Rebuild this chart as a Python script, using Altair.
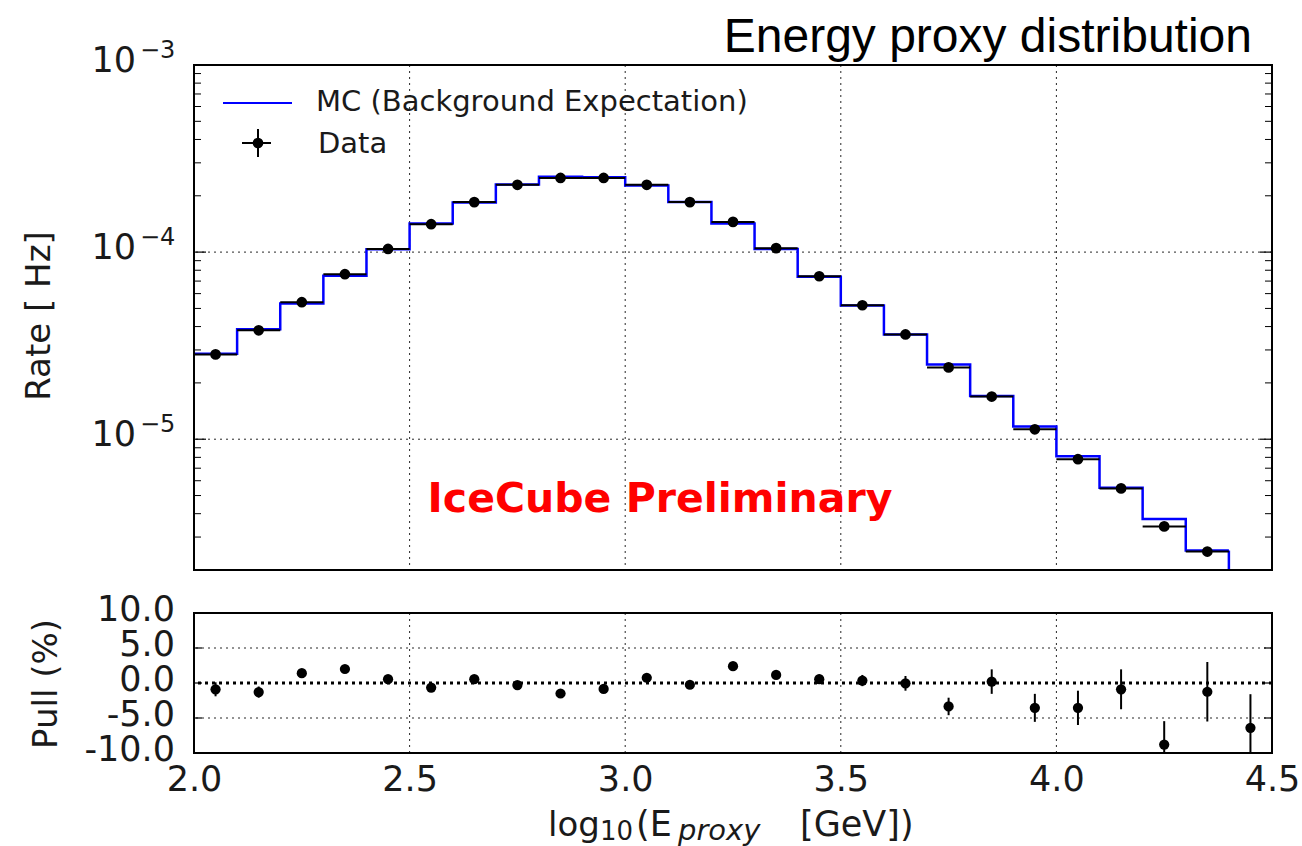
import altair as alt
import pandas as pd

# ---------------- data ----------------
bin_lo = [2.0, 2.1, 2.2, 2.3, 2.4, 2.5, 2.6, 2.7, 2.8, 2.9, 3.0, 3.1,
          3.2, 3.3, 3.4, 3.5, 3.6, 3.7, 3.8, 3.9, 4.0, 4.1, 4.2, 4.3]
bin_hi = [2.1, 2.2, 2.3, 2.4, 2.5, 2.6, 2.7, 2.8, 2.9, 3.0, 3.1, 3.2,
          3.3, 3.4, 3.5, 3.6, 3.7, 3.8, 3.9, 4.0, 4.1, 4.2, 4.3, 4.4]
bin_center = [2.05, 2.15, 2.25, 2.35, 2.45, 2.55, 2.65, 2.75, 2.85, 2.95, 3.05, 3.15,
              3.25, 3.35, 3.45, 3.55, 3.65, 3.75, 3.85, 3.95, 4.05, 4.15, 4.25, 4.35]

data_rate = [2.84e-5, 3.82e-5, 5.40e-5, 7.62e-5, 1.04e-4, 1.41e-4, 1.85e-4, 2.29e-4,
             2.49e-4, 2.49e-4, 2.29e-4, 1.85e-4, 1.45e-4, 1.05e-4, 7.43e-5, 5.20e-5,
             3.63e-5, 2.42e-5, 1.69e-5, 1.13e-5, 7.82e-6, 5.46e-6, 3.42e-6, 2.51e-6]

mc_rate = [2.86e-5, 3.87e-5, 5.32e-5, 7.47e-5, 1.035e-4, 1.42e-4, 1.84e-4, 2.30e-4,
           2.53e-4, 2.51e-4, 2.27e-4, 1.85e-4, 1.42e-4, 1.04e-4, 7.39e-5, 5.18e-5,
           3.63e-5, 2.51e-5, 1.70e-5, 1.17e-5, 8.10e-6, 5.50e-6, 3.75e-6, 2.54e-6]

pull_x = [2.05, 2.15, 2.25, 2.35, 2.45, 2.55, 2.65, 2.75, 2.85, 2.95, 3.05, 3.15, 3.25,
          3.35, 3.45, 3.55, 3.65, 3.75, 3.85, 3.95, 4.05, 4.15, 4.25, 4.35, 4.45]
pull_val = [-0.9, -1.3, 1.4, 2.0, 0.55, -0.65, 0.55, -0.3, -1.5, -0.85, 0.75, -0.25, 2.4,
            1.15, 0.55, 0.35, -0.05, -3.35, 0.2, -3.55, -3.55, -0.9, -8.8, -1.25, -6.4]
pull_err = [1.0, 0.8, 0.6, 0.5, 0.4, 0.35, 0.35, 0.35, 0.35, 0.4, 0.4, 0.45, 0.5,
            0.55, 0.65, 0.8, 1.05, 1.25, 1.75, 2.0, 2.45, 2.85, 3.35, 4.25, 4.8]

x_ticks = [2.0, 2.5, 3.0, 3.5, 4.0, 4.5]
x_grid = [2.5, 3.0, 3.5, 4.0]
y_major = [1e-3, 1e-4, 1e-5]
y_major_exp = ["\u22123", "\u22124", "\u22125"]
y_grid = [1e-4, 1e-5]
y_minor = [m * 10.0 ** e for e in (-6, -5, -4) for m in range(2, 10) if m * 10.0 ** e >= 2e-6]
pull_ticks = [10, 5, 0, -5, -10]
pull_labels = ["10.0", "5.0", "0.0", "-5.0", "-10.0"]
pull_grid = [5, -5]

# ---------------- styling ----------------
W, H = 1078, 505
HB = 140
FONT = "DejaVu Sans"
TXT = "#1a1a1a"

xs = alt.Scale(domain=[2.0, 4.5], nice=False, zero=False)
ys = alt.Scale(type="log", domain=[2e-6, 1e-3], nice=False)
ps = alt.Scale(domain=[-10, 10], nice=False, zero=False)

def X(f):
    return alt.X(f, scale=xs, axis=None)

def Y(f):
    return alt.Y(f, scale=ys, axis=None)

def P(f):
    return alt.Y(f, scale=ps, axis=None)

df_data = pd.DataFrame({"lo": bin_lo, "hi": bin_hi, "c": bin_center, "rate": data_rate})
df_mc = pd.DataFrame({"x": bin_lo + [bin_hi[-1]], "y": mc_rate + [mc_rate[-1]]})
df_end = pd.DataFrame({"x": [bin_hi[-1]], "y": [mc_rate[-1]]})
df_minor = pd.DataFrame({"v": y_minor})
df_major = pd.DataFrame({"v": y_major, "exp": y_major_exp})
df_xgrid = pd.DataFrame({"x": x_grid})
df_ygrid = pd.DataFrame({"v": y_grid})
one = pd.DataFrame({"a": [0]})

def frame_rect(h):
    return alt.Chart(one).mark_rect(fill=None, stroke="black", strokeWidth=2).encode(
        x=alt.value(0), x2=alt.value(W), y=alt.value(0), y2=alt.value(h))

def text(t, x, y, size, align="left", baseline="alphabetic", font=FONT, style="normal",
         weight="normal", color=TXT, angle=0):
    return alt.Chart(one).mark_text(font=font, fontSize=size, fontStyle=style,
                                    fontWeight=weight, color=color, align=align,
                                    baseline=baseline, angle=angle).encode(
        x=alt.value(x), y=alt.value(y), text=alt.value(t))

# ---------------- top panel ----------------
xgrid_t = alt.Chart(df_xgrid).mark_rule(color="black", strokeWidth=1, strokeDash=[2, 4],
                                        opacity=0.85).encode(x=X("x:Q"))
ygrid_t = alt.Chart(df_ygrid).mark_rule(color="black", strokeWidth=1, strokeDash=[2, 4],
                                        opacity=0.85).encode(y=Y("v:Q"))

mc_line = alt.Chart(df_mc).mark_line(interpolate="step-after", color="#0000ff",
                                     strokeWidth=2.5).encode(x=X("x:Q"), y=Y("y:Q"))
mc_drop = alt.Chart(df_end).mark_rule(color="#0000ff", strokeWidth=2.5).encode(
    x=X("x:Q"), y=Y("y:Q"), y2=alt.value(H))

xerr = alt.Chart(df_data).mark_rule(color="black", strokeWidth=2).encode(
    x=X("lo:Q"), x2="hi:Q", y=Y("rate:Q"))
pts = alt.Chart(df_data).mark_circle(color="black", size=115, opacity=1).encode(
    x=X("c:Q"), y=Y("rate:Q"))

minor_l = alt.Chart(df_minor).mark_rule(color="black", strokeWidth=1).encode(
    y=Y("v:Q"), x=alt.value(0), x2=alt.value(7))
minor_r = alt.Chart(df_minor).mark_rule(color="black", strokeWidth=1).encode(
    y=Y("v:Q"), x=alt.value(W - 7), x2=alt.value(W))
major_l = alt.Chart(df_major).mark_rule(color="black", strokeWidth=1.2).encode(
    y=Y("v:Q"), x=alt.value(0), x2=alt.value(12))
major_r = alt.Chart(df_major).mark_rule(color="black", strokeWidth=1.2).encode(
    y=Y("v:Q"), x=alt.value(W - 12), x2=alt.value(W))

ylab10 = alt.Chart(df_major).mark_text(font=FONT, fontSize=35, color=TXT, align="right",
                                       baseline="middle", dy=-4).encode(
    y=Y("v:Q"), x=alt.value(-58), text=alt.value("10"))
ylabexp = alt.Chart(df_major).mark_text(font=FONT, fontSize=24, color=TXT, align="left",
                                        baseline="middle", dy=-14).encode(
    y=Y("v:Q"), x=alt.value(-54), text="exp:N")

leg_line = alt.Chart(one).mark_rule(color="#0000ff", strokeWidth=2).encode(
    x=alt.value(29), x2=alt.value(98), y=alt.value(38))
leg_h = alt.Chart(one).mark_rule(color="black", strokeWidth=2).encode(
    x=alt.value(48), x2=alt.value(77), y=alt.value(78))
leg_v = alt.Chart(one).mark_rule(color="black", strokeWidth=2).encode(
    x=alt.value(64), y=alt.value(64), y2=alt.value(92))
leg_pt = alt.Chart(one).mark_circle(color="black", size=115, opacity=1).encode(
    x=alt.value(64), y=alt.value(78))

top = alt.layer(
    xgrid_t, ygrid_t, mc_line, mc_drop, xerr, pts, minor_l, minor_r, major_l, major_r,
    frame_rect(H), ylab10, ylabexp, leg_line, leg_h, leg_v, leg_pt,
    text("MC (Background Expectation)", 122, 46, 29),
    text("Data", 124, 88, 29),
    text("IceCube Preliminary", 466, 447, 41, align="center", weight="bold", color="#ff0000"),
    text("Energy proxy distribution", 1058, -13, 48, align="right",
         font="Liberation Sans", color="black"),
    text("Rate [ Hz]", -154, 251, 34, align="center", baseline="middle", angle=270),
).properties(width=W, height=H)

# ---------------- pull panel ----------------
df_pull = pd.DataFrame({"x": pull_x, "p": pull_val,
                        "lo": [v - e for v, e in zip(pull_val, pull_err)],
                        "hi": [v + e for v, e in zip(pull_val, pull_err)]})
df_zero = pd.DataFrame({"y": [0]})
df_pticks = pd.DataFrame({"v": pull_ticks, "lab": pull_labels})
df_pgrid = pd.DataFrame({"v": pull_grid})

pframe = alt.Chart(df_pull).mark_point(opacity=0).encode(
    x=alt.X("x:Q", scale=xs, axis=alt.Axis(values=x_ticks, format=".1f", labelFont=FONT,
                                              labelFontSize=35, labelColor=TXT,
                                              labelFlush=False, labelOverlap=False,
                                              labelPadding=9, ticks=False, domain=False,
                                              grid=False, title=None)),
    y=P("p:Q"),
)
xgrid_b = alt.Chart(df_xgrid).mark_rule(color="black", strokeWidth=1, strokeDash=[2, 4],
                                        opacity=0.85).encode(x=alt.X("x:Q", scale=xs))
ygrid_b = alt.Chart(df_pgrid).mark_rule(color="black", strokeWidth=1, strokeDash=[2, 4],
                                        opacity=0.85).encode(y=P("v:Q"))
zero = alt.Chart(df_zero).mark_rule(color="black", strokeWidth=3, strokeDash=[3, 4]).encode(
    y=P("y:Q"))
perr = alt.Chart(df_pull).mark_rule(color="black", strokeWidth=2, clip=True).encode(
    x=alt.X("x:Q", scale=xs), y=P("lo:Q"), y2="hi:Q")
ppts = alt.Chart(df_pull).mark_circle(color="black", size=105, opacity=1, clip=True).encode(
    x=alt.X("x:Q", scale=xs), y=P("p:Q"))
plabels = alt.Chart(df_pticks).mark_text(font=FONT, fontSize=35, color=TXT, align="right",
                                         baseline="middle", dy=-3).encode(
    y=P("v:Q"), x=alt.value(-19), text="lab:N")
pt_l = alt.Chart(df_pticks).mark_rule(color="black", strokeWidth=1.2).encode(
    y=P("v:Q"), x=alt.value(0), x2=alt.value(8))
pt_r = alt.Chart(df_pticks).mark_rule(color="black", strokeWidth=1.2).encode(
    y=P("v:Q"), x=alt.value(W - 8), x2=alt.value(W))

bottom = alt.layer(
    pframe, xgrid_b, ygrid_b, zero, perr, ppts, pt_l, pt_r, frame_rect(HB), plabels,
    text("Pull (%)", -147, 71, 34, align="center", baseline="middle", angle=270),
    text("log", 354, 223, 34),
    text("10", 406, 227, 26),
    text("(E", 442, 223, 35),
    text("proxy", 484, 227, 29, style="italic"),
    text("[GeV])", 606, 223, 35),
).properties(width=W, height=HB)

chart = alt.vconcat(top, bottom, spacing=20).properties(
    padding={"left": 22, "top": 13, "right": 0, "bottom": 0}
).configure_view(stroke=None).configure(background="white")

chart.save("out.html", embed_options={"renderer": "svg", "actions": False})
